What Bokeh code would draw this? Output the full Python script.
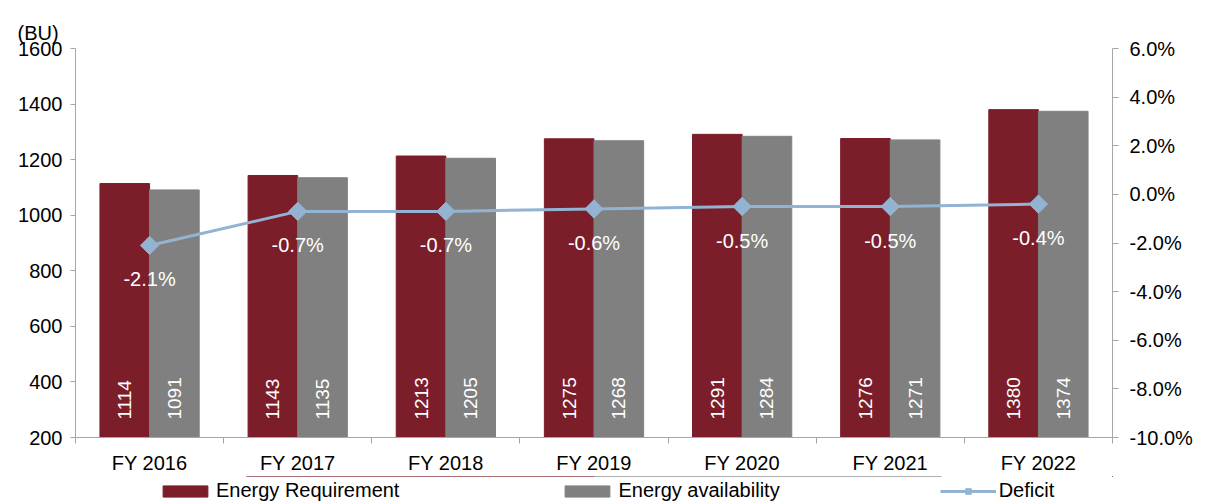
import math
from bokeh.plotting import figure
from bokeh.layouts import column
from bokeh.models import (ColumnDataSource, LinearAxis, Range1d, FixedTicker,
                          SingleIntervalTicker, PrintfTickFormatter, Legend,
                          LegendItem, LabelSet)
from bokeh.core.properties import value
from bokeh.embed import file_html
from bokeh.resources import INLINE

categories = ["FY 2016", "FY 2017", "FY 2018", "FY 2019", "FY 2020", "FY 2021", "FY 2022"]
requirement = [1114, 1143, 1213, 1275, 1291, 1276, 1380]
availability = [1091, 1135, 1205, 1268, 1284, 1271, 1374]
deficit = [-2.1, -0.7, -0.7, -0.6, -0.5, -0.5, -0.4]

FONT = "Liberation Sans"
FS = "20px"
RED = "#7B1E2A"
GREY = "#808080"
BLUE = "#93B3D3"
AXIS = "#A6A6A6"

Y0, Y1 = 200, 1600
BW = 0.335
n = len(categories)
xc = [i + 0.5 for i in range(n)]

src = ColumnDataSource(dict(
    xc=xc,
    xr=[x - BW / 2 for x in xc],
    xa=[x + BW / 2 for x in xc],
    req=requirement,
    ava=availability,
    base=[Y0] * n,
    req_text=[str(v) for v in requirement],
    ava_text=[str(v) for v in availability],
    deficit=deficit,
    pct_text=["%.1f%%" % d for d in deficit],
))

def blank(fig):
    fig.outline_line_color = None
    fig.background_fill_color = "white"
    fig.border_fill_color = "white"

# ---- main chart
p = figure(width=1206, height=476,
           min_border_left=75, min_border_right=94, min_border_top=48, min_border_bottom=38,
           x_range=Range1d(0, n), y_range=Range1d(Y0, Y1),
           output_backend="svg", toolbar_location=None,
           x_axis_type=None, y_axis_type=None)
p.extra_y_ranges = {"pct": Range1d(-10, 6)}
blank(p)

p.title.text = "(BU)"
p.title.text_font = FONT
p.title.text_font_size = FS
p.title.text_font_style = "normal"
p.title.align = "left"
p.title.offset = -58
p.title.text_color = "black"

p.vbar(x="xr", width=BW, bottom=Y0, top="req", source=src, fill_color=RED, line_color=RED)
p.vbar(x="xa", width=BW, bottom=Y0, top="ava", source=src, fill_color=GREY, line_color=GREY)
p.line(x="xc", y="deficit", source=src, y_range_name="pct", line_color=BLUE, line_width=3)
p.scatter(x="xc", y="deficit", source=src, y_range_name="pct",
          marker="square", angle=math.pi / 4, size=13, fill_color=BLUE, line_color=BLUE)

def style_axis(ax):
    ax.axis_line_color = AXIS
    ax.major_tick_line_color = AXIS
    ax.minor_tick_line_color = AXIS
    ax.major_label_text_font = FONT
    ax.major_label_text_font_size = FS
    ax.major_label_text_color = "black"

yl = LinearAxis(ticker=SingleIntervalTicker(interval=200, num_minor_ticks=0))
style_axis(yl)
yl.major_tick_out = 5
yl.major_tick_in = 0
yl.major_label_standoff = 8
p.add_layout(yl, "left")

yr = LinearAxis(y_range_name="pct",
                ticker=SingleIntervalTicker(interval=2, num_minor_ticks=0),
                formatter=PrintfTickFormatter(format="%.1f%%"))
style_axis(yr)
yr.major_tick_out = 6
yr.major_tick_in = 0
yr.major_label_standoff = 11
p.add_layout(yr, "right")

xb = LinearAxis(ticker=FixedTicker(ticks=xc, minor_ticks=list(range(n + 1))))
style_axis(xb)
xb.major_tick_line_color = None
xb.major_tick_out = 0
xb.major_tick_in = 0
xb.minor_tick_out = 6
xb.minor_tick_in = 0
xb.major_label_standoff = 8
xb.major_label_overrides = {x: c for x, c in zip(xc, categories)}
p.add_layout(xb, "below")

common = dict(source=src, text_color="white", text_font=value(FONT))
p.add_layout(LabelSet(x="xr", y="base", text="req_text", angle=math.pi / 2,
                      text_align="left", text_baseline="middle", y_offset=18,
                      text_font_size="19px", **common))
p.add_layout(LabelSet(x="xa", y="base", text="ava_text", angle=math.pi / 2,
                      text_align="left", text_baseline="middle", y_offset=18,
                      text_font_size="19px", **common))
p.add_layout(LabelSet(x="xc", y="deficit", text="pct_text", y_range_name="pct",
                      text_align="center", text_baseline="middle", y_offset=-34,
                      text_font_size=FS, **common))

# ---- bottom strip with legend (series drawn out of view, only legend shows)
p2 = figure(width=1206, height=28, x_range=Range1d(0, 1), y_range=Range1d(0, 1),
            min_border=0, output_backend="svg", toolbar_location=None,
            title_location=None, x_axis_type=None, y_axis_type=None)
blank(p2)
g1 = p2.vbar(x="xr", width=BW, bottom=Y0, top="req", source=src, fill_color=RED, line_color=RED)
g2 = p2.vbar(x="xa", width=BW, bottom=Y0, top="ava", source=src, fill_color=GREY, line_color=GREY)
g3 = p2.line(x="xc", y="deficit", source=src, line_color=BLUE, line_width=3)
g4 = p2.scatter(x="xc", y="deficit", source=src, marker="square", angle=math.pi / 4,
                size=11, fill_color=BLUE, line_color=BLUE)
legend = Legend(items=[
    LegendItem(label="Energy Requirement", renderers=[g1]),
    LegendItem(label="Energy availability", renderers=[g2]),
    LegendItem(label="Deficit", renderers=[g3, g4]),
], orientation="horizontal", location=(82, 2), padding=0, margin=0,
    spacing=160, glyph_width=56, glyph_height=14, label_standoff=3,
    label_text_font=FONT, label_text_font_size=FS, label_text_color="black",
    label_height=20, background_fill_alpha=0, border_line_color=None)
p2.add_layout(legend, "center")

open("out.html", "w").write(file_html(column(p, p2), INLINE))
